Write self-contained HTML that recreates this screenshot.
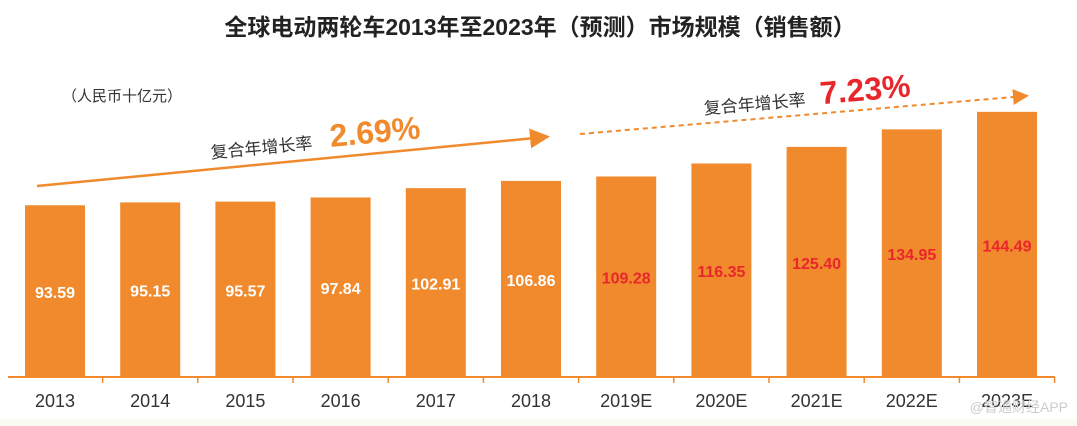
<!DOCTYPE html>
<html><head><meta charset="utf-8"><style>
body{margin:0;width:1077px;height:426px;background:#fff;overflow:hidden;font-family:"Liberation Sans","Noto Sans CJK SC",sans-serif}
svg{display:block}
</style></head><body>
<svg id="c" width="1077" height="426">
<rect x="0" y="419" width="1077" height="7" fill="#fbfaf0"/>
<text x="540" y="35" text-anchor="middle" font-size="23" font-weight="bold" fill="#222">全球电动两轮车2013年至2023年（预测）市场规模（销售额）</text>
<text x="62" y="101" font-size="15" fill="#333">（人民币十亿元）</text>
<defs><marker id="ah" markerWidth="8" markerHeight="8" refX="6" refY="4" orient="auto"><path d="M0,0 L8,4 L0,8z" fill="#f08a2c"/></marker></defs>
<line x1="37" y1="186" x2="545" y2="137" stroke="#f08a2c" stroke-width="2.5" marker-end="url(#ah)"/>
<g transform="rotate(-5.5 320 140)">
<text x="210" y="148" font-size="17" fill="#333">复合年增长率</text>
<text x="330" y="148" font-size="32" font-weight="bold" fill="#f08a2c">2.69%</text></g>
<line x1="580" y1="134" x2="1025" y2="96" stroke="#f08a2c" stroke-width="2" stroke-dasharray="5,4" marker-end="url(#ah)"/>
<g transform="rotate(-5 800 95)">
<text x="703" y="106" font-size="17" fill="#333">复合年增长率</text>
<text x="820" y="106" font-size="32" font-weight="bold" fill="#e8262c">7.23%</text></g>
<line x1="8" y1="377" x2="1055" y2="377" stroke="#f08a2c" stroke-width="2"/>
<g id="bars"></g>
</svg>
<script>
const categories=["2013","2014","2015","2016","2017","2018","2019E","2020E","2021E","2022E","2023E"];
const values=[93.59,95.15,95.57,97.84,102.91,106.86,109.28,116.35,125.40,134.95,144.49];
const forecast=[false,false,false,false,false,false,true,true,true,true,true];
const base=377,k=1.835,x0=55,step=95.2,bw=60;
const xs=i=>x0+i*step, ys=v=>base-v*k;
const g=document.getElementById('bars'),NS='http://www.w3.org/2000/svg';
function mk(t,a){const e=document.createElementNS(NS,t);for(const p in a)e.setAttribute(p,a[p]);g.appendChild(e);return e;}
categories.forEach((c,i)=>{
 const cx=xs(i),y=ys(values[i]);
 const r=mk('rect',{x:cx-bw/2,y:y,width:bw,height:base-y,fill:'#f08a2c'});
 
 
 const t=mk('text',{x:cx,y:(y+base)/2+7,'text-anchor':'middle','font-size':16,'font-weight':'bold',fill:forecast[i]?'#e8262c':'#fff'});
 t.textContent=values[i].toFixed(2);
 
 
 const l=mk('text',{x:cx,y:407,'text-anchor':'middle','font-size':18,fill:'#333'});
 l.textContent=c;
 
 
 const tk=mk('line',{x1:cx+step/2,y1:377,x2:cx+step/2,y2:383,stroke:'#f08a2c','stroke-width':1.5});
 
 
});
const w=mk('text',{x:1068,y:412,'text-anchor':'end','font-size':14,fill:'#ccc'});
w.textContent='@智通财经APP';


</script>
</body></html>
